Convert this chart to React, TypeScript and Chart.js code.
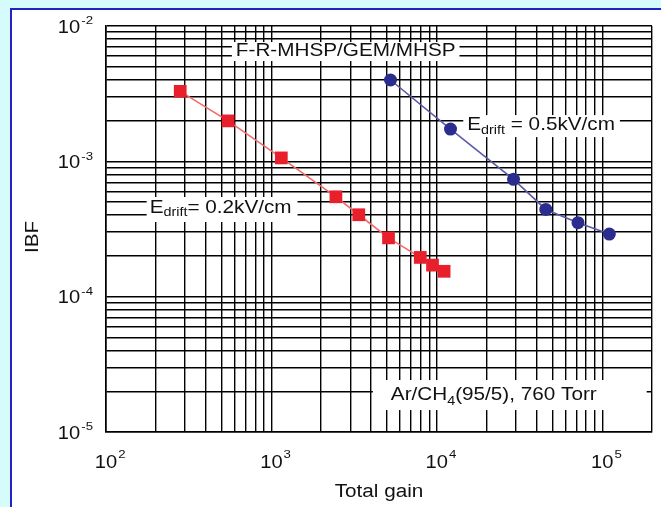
import React, { useEffect, useRef } from "react";
import { Chart, registerables } from "chart.js";

Chart.register(...registerables);

// ---- data ----
const redGain = [281, 547, 1148, 2455, 3375, 5105, 7943, 9420, 11070];
const redIBF = [3.29e-3, 1.99e-3, 1.06e-3, 5.47e-4, 4.03e-4, 2.72e-4, 1.95e-4, 1.71e-4, 1.54e-4];
const blueGain = [5250, 12100, 29100, 45600, 71400, 110400];
const blueIBF = [3.99e-3, 1.73e-3, 7.36e-4, 4.41e-4, 3.52e-4, 2.9e-4];

const xGridValues = [
  100, 200, 300, 400, 500, 600, 700, 800, 900,
  1000, 2000, 3000, 4000, 5000, 6000, 7000, 8000, 9000,
  10000, 20000, 30000, 40000, 50000, 60000, 70000, 80000, 90000,
  100000, 200000,
];
const yGridValues = [
  1e-5, 2e-5, 3e-5, 4e-5, 5e-5, 6e-5, 7e-5, 8e-5, 9e-5,
  1e-4, 2e-4, 3e-4, 4e-4, 5e-4, 6e-4, 7e-4, 8e-4, 9e-4,
  1e-3, 2e-3, 3e-3, 4e-3, 5e-3, 6e-3, 7e-3, 8e-3, 9e-3,
  1e-2,
];
const xLabelValues = [1e2, 1e3, 1e4, 1e5];
const xLabelExps = ["2", "3", "4", "5"];
const yLabelValues = [1e-2, 1e-3, 1e-4, 1e-5];
const yLabelExps = ["-2", "-3", "-4", "-5"];

const xTitle = "Total gain";
const yTitle = "IBF";

const FONT = '"Liberation Sans", Arial, Helvetica, sans-serif';
const SX = 1.15;
const TEXT = "#111111";

type Seg = { text: string; size: number; dy?: number; w?: number };

function drawSegs(ctx: CanvasRenderingContext2D, x: number, y: number, segs: Seg[], align: "left" | "center" | "right") {
  let total = 0;
  for (const s of segs) {
    ctx.font = `${s.size}px ${FONT}`;
    s.w = ctx.measureText(s.text).width * SX;
    total += s.w;
  }
  let cx = align === "center" ? x - total / 2 : align === "right" ? x - total : x;
  const left = cx;
  for (const s of segs) {
    ctx.save();
    ctx.translate(cx, y + (s.dy || 0));
    ctx.scale(SX, 1);
    ctx.font = `${s.size}px ${FONT}`;
    ctx.fillStyle = TEXT;
    ctx.textBaseline = "middle";
    ctx.textAlign = "left";
    ctx.fillText(s.text, 0, 0);
    ctx.restore();
    cx += s.w || 0;
  }
  return { left, width: total };
}

function measureSegs(ctx: CanvasRenderingContext2D, segs: Seg[]) {
  let total = 0;
  for (const s of segs) {
    ctx.font = `${s.size}px ${FONT}`;
    total += ctx.measureText(s.text).width * SX;
  }
  return total;
}

type Note = {
  x: number; y: number; align: "left" | "center";
  segs: Seg[]; padL: number; padR: number; padT: number; padB: number;
};

const notes: Note[] = [
  {
    x: 2812, y: 6.53e-3, align: "center",
    segs: [{ text: "F-R-MHSP/GEM/MHSP", size: 18 }],
    padL: 4, padR: 4, padT: 9, padB: 10,
  },
  {
    x: 15280, y: 1.853e-3, align: "left",
    segs: [{ text: "E", size: 18 }, { text: "drift", size: 12.5, dy: 5 }, { text: " = 0.5kV/cm", size: 18 }],
    padL: 4, padR: 5, padT: 10, padB: 12,
  },
  {
    x: 183.6, y: 4.52e-4, align: "left",
    segs: [{ text: "E", size: 18 }, { text: "drift", size: 12.5, dy: 5 }, { text: "= 0.2kV/cm", size: 18 }],
    padL: 3, padR: 6, padT: 11, padB: 14,
  },
  {
    x: 5272, y: 1.875e-5, align: "left",
    segs: [{ text: "Ar/CH", size: 18 }, { text: "4", size: 12.5, dy: 6 }, { text: "(95/5), 760 Torr", size: 18 }],
    padL: 18, padR: 50, padT: 15, padB: 15,
  },
];

const overlay = {
  id: "overlay",
  beforeDatasetsDraw(chart: any) {
    const ctx: CanvasRenderingContext2D = chart.ctx;
    const xs = chart.scales.x;
    const ys = chart.scales.y;
    ctx.save();
    for (const n of notes) {
      const px = xs.getPixelForValue(n.x);
      const py = ys.getPixelForValue(n.y);
      const w = measureSegs(ctx, n.segs);
      const left = n.align === "center" ? px - w / 2 : px;
      ctx.fillStyle = "#ffffff";
      ctx.fillRect(left - n.padL, py - n.padT, w + n.padL + n.padR, n.padT + n.padB);
      drawSegs(ctx, left, py, n.segs, "left");
    }
    ctx.restore();
  },
  afterDraw(chart: any) {
    const ctx: CanvasRenderingContext2D = chart.ctx;
    const xs = chart.scales.x;
    const ys = chart.scales.y;
    const area = chart.chartArea;
    ctx.save();
    // y tick labels
    yLabelValues.forEach((v, i) => {
      const py = ys.getPixelForValue(v);
      ctx.font = `11.5px ${FONT}`;
      const supW = ctx.measureText(yLabelExps[i]).width * SX;
      const right = area.left - 13;
      drawSegs(ctx, right - supW - 1, py + 2, [{ text: "10", size: 17.5 }], "right");
      drawSegs(ctx, right - supW, py - 5, [{ text: yLabelExps[i], size: 11.5 }], "left");
    });
    // x tick labels
    xLabelValues.forEach((v, i) => {
      const px = xs.getPixelForValue(v);
      const r = drawSegs(ctx, px, area.bottom + 31, [{ text: "10", size: 17.5 }], "center");
      drawSegs(ctx, r.left + r.width + 1, area.bottom + 23, [{ text: xLabelExps[i], size: 11.5 }], "left");
    });
    // axis titles
    drawSegs(ctx, (area.left + area.right) / 2, area.bottom + 60, [{ text: xTitle, size: 18 }], "center");
    ctx.save();
    ctx.translate(area.left - 73, area.top + 211);
    ctx.rotate(-Math.PI / 2);
    drawSegs(ctx, 0, 0, [{ text: yTitle, size: 18 }], "center");
    ctx.restore();
    ctx.restore();
  },
};

export default function App() {
  const ref = useRef<HTMLCanvasElement>(null);
  useEffect(() => {
    const canvas = ref.current!;
    const gridCommon = {
      color: "#000000",
      lineWidth: 1.4,
      drawTicks: false,
    };
    const chart = new Chart(canvas, {
      type: "line",
      data: {
        datasets: [
          {
            label: "Edrift = 0.2kV/cm",
            data: redGain.map((g, i) => ({ x: g, y: redIBF[i] })),
            borderColor: "#f46a6a",
            backgroundColor: "#e8202c",
            pointBackgroundColor: "#e8202c",
            pointBorderColor: "#e8202c",
            pointStyle: "rect",
            pointRadius: 9,
            pointBorderWidth: 0,
            borderWidth: 1.6,
            tension: 0,
          },
          {
            label: "Edrift = 0.5kV/cm",
            data: blueGain.map((g, i) => ({ x: g, y: blueIBF[i] })),
            borderColor: "#5a5aa8",
            backgroundColor: "#2b2d8e",
            pointBackgroundColor: "#2b2d8e",
            pointBorderColor: "#2b2d8e",
            pointStyle: "circle",
            pointRadius: 6.5,
            pointBorderWidth: 0,
            borderWidth: 1.6,
            tension: 0,
          },
        ],
      },
      options: {
        responsive: false,
        animation: false,
        devicePixelRatio: 1,
        layout: { padding: { left: 106, top: 26, right: 5, bottom: 75 } },
        plugins: { legend: { display: false }, tooltip: { enabled: false } },
        scales: {
          x: {
            type: "logarithmic",
            min: 100,
            max: 200000,
            afterBuildTicks: (s: any) => {
              s.ticks = xGridValues.map((v) => ({ value: v }));
            },
            ticks: { display: false },
            grid: gridCommon,
            border: { display: true, color: "#000", width: 1.6 },
            title: { display: false },
          },
          y: {
            type: "logarithmic",
            min: 1e-5,
            max: 1e-2,
            afterBuildTicks: (s: any) => {
              s.ticks = yGridValues.map((v) => ({ value: v }));
            },
            ticks: { display: false },
            grid: gridCommon,
            border: { display: true, color: "#000", width: 1.6 },
            title: { display: false },
          },
        },
      } as any,
      plugins: [overlay],
    });
    return () => chart.destroy();
  }, []);

  return (
    <div
      style={{
        position: "fixed",
        left: 0,
        top: 0,
        width: 661,
        height: 507,
        background: "#d6fbfd",
        overflow: "hidden",
      }}
    >
      <div
        style={{
          position: "absolute",
          left: 10,
          top: 8,
          width: 700,
          height: 560,
          background: "#ffffff",
          border: "2px solid #2323c4",
          boxSizing: "border-box",
        }}
      />
      <canvas
        ref={ref}
        width={661}
        height={507}
        style={{ position: "absolute", left: 0, top: 0, width: 661, height: 507 }}
      />
    </div>
  );
}
